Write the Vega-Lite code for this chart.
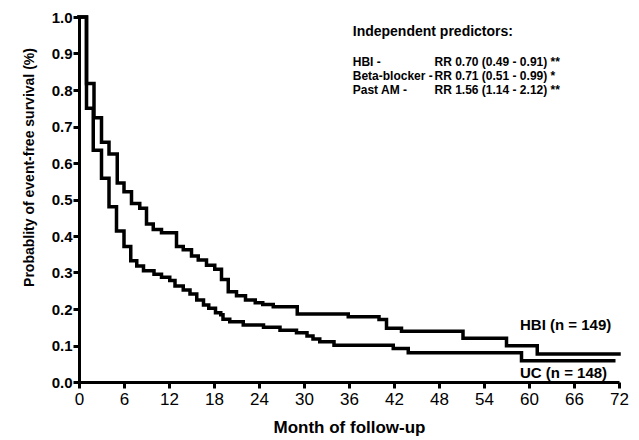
{
  "$schema": "https://vega.github.io/schema/vega-lite/v6.json",
  "width": 540,
  "height": 365,
  "autosize": {"type": "none"},
  "padding": {"left": 79, "top": 17, "right": 20, "bottom": 58},
  "background": "white",
  "config": {
    "view": {"stroke": null},
    "font": "Liberation Sans",
    "axis": {"grid": false}
  },
  "datasets": {
    "km": [
      {"group": "HBI", "month": 0, "surv": 1.0},
      {"group": "HBI", "month": 1, "surv": 0.818},
      {"group": "HBI", "month": 2, "surv": 0.724},
      {"group": "HBI", "month": 3, "surv": 0.657},
      {"group": "HBI", "month": 4, "surv": 0.625},
      {"group": "HBI", "month": 5.1, "surv": 0.545},
      {"group": "HBI", "month": 6, "surv": 0.521},
      {"group": "HBI", "month": 7, "surv": 0.489},
      {"group": "HBI", "month": 8.1, "surv": 0.476},
      {"group": "HBI", "month": 9, "surv": 0.433},
      {"group": "HBI", "month": 9.9, "surv": 0.418},
      {"group": "HBI", "month": 11, "surv": 0.409},
      {"group": "HBI", "month": 13, "surv": 0.371},
      {"group": "HBI", "month": 13.9, "surv": 0.362},
      {"group": "HBI", "month": 15, "surv": 0.345},
      {"group": "HBI", "month": 15.9, "surv": 0.334},
      {"group": "HBI", "month": 17, "surv": 0.32},
      {"group": "HBI", "month": 18.1, "surv": 0.309},
      {"group": "HBI", "month": 19, "surv": 0.281},
      {"group": "HBI", "month": 19.9, "surv": 0.247},
      {"group": "HBI", "month": 21, "surv": 0.236},
      {"group": "HBI", "month": 22.2, "surv": 0.225},
      {"group": "HBI", "month": 23.5, "surv": 0.217},
      {"group": "HBI", "month": 24.5, "surv": 0.212},
      {"group": "HBI", "month": 25.9, "surv": 0.206},
      {"group": "HBI", "month": 29.1, "surv": 0.186},
      {"group": "HBI", "month": 35.9, "surv": 0.179},
      {"group": "HBI", "month": 40, "surv": 0.171},
      {"group": "HBI", "month": 41, "surv": 0.147},
      {"group": "HBI", "month": 43, "surv": 0.139},
      {"group": "HBI", "month": 51.2, "surv": 0.12},
      {"group": "HBI", "month": 57, "surv": 0.099},
      {"group": "HBI", "month": 61.1, "surv": 0.077},
      {"group": "HBI", "month": 72, "surv": 0.077},
      {"group": "UC", "month": 0, "surv": 1.0},
      {"group": "UC", "month": 1, "surv": 0.75},
      {"group": "UC", "month": 1.9, "surv": 0.635},
      {"group": "UC", "month": 3, "surv": 0.558},
      {"group": "UC", "month": 4, "surv": 0.48},
      {"group": "UC", "month": 5, "surv": 0.414},
      {"group": "UC", "month": 6, "surv": 0.371},
      {"group": "UC", "month": 6.9, "surv": 0.332},
      {"group": "UC", "month": 7.7, "surv": 0.318},
      {"group": "UC", "month": 8.6, "surv": 0.305},
      {"group": "UC", "month": 10, "surv": 0.295},
      {"group": "UC", "month": 11, "surv": 0.287},
      {"group": "UC", "month": 12.1, "surv": 0.278},
      {"group": "UC", "month": 12.8, "surv": 0.263},
      {"group": "UC", "month": 13.9, "surv": 0.252},
      {"group": "UC", "month": 14.8, "surv": 0.241},
      {"group": "UC", "month": 15.7, "surv": 0.225},
      {"group": "UC", "month": 16.6, "surv": 0.211},
      {"group": "UC", "month": 17.3, "surv": 0.202},
      {"group": "UC", "month": 18.2, "surv": 0.19},
      {"group": "UC", "month": 18.9, "surv": 0.184},
      {"group": "UC", "month": 19.2, "surv": 0.172},
      {"group": "UC", "month": 20.1, "surv": 0.165},
      {"group": "UC", "month": 21.9, "surv": 0.156},
      {"group": "UC", "month": 24.6, "surv": 0.15},
      {"group": "UC", "month": 26.8, "surv": 0.142},
      {"group": "UC", "month": 29, "surv": 0.135},
      {"group": "UC", "month": 30.4, "surv": 0.126},
      {"group": "UC", "month": 31.2, "surv": 0.118},
      {"group": "UC", "month": 32.1, "surv": 0.11},
      {"group": "UC", "month": 34, "surv": 0.101},
      {"group": "UC", "month": 41.9, "surv": 0.092},
      {"group": "UC", "month": 43.9, "surv": 0.08},
      {"group": "UC", "month": 59, "surv": 0.058},
      {"group": "UC", "month": 71.3, "surv": 0.058}
    ],
    "curveLabels": [
      {"month": 58.8, "surv": 0.156, "label": "HBI (n = 149)"},
      {"month": 58.8, "surv": 0.025, "label": "UC (n = 148)"}
    ],
    "header": [
      {"month": 36.5, "surv": 0.958, "label": "Independent predictors:"}
    ],
    "predictors": [
      {"month": 36.5, "surv": 0.876, "label": "HBI -"},
      {"month": 36.5, "surv": 0.837, "label": "Beta-blocker -"},
      {"month": 36.5, "surv": 0.799, "label": "Past AM -"},
      {"month": 47.4, "surv": 0.876, "label": "RR 0.70 (0.49 - 0.91) **"},
      {"month": 47.4, "surv": 0.837, "label": "RR 0.71 (0.51 - 0.99) *"},
      {"month": 47.4, "surv": 0.799, "label": "RR 1.56 (1.14 - 2.12) **"}
    ]
  },
  "encoding": {
    "x": {
      "field": "month", "type": "quantitative",
      "scale": {"domain": [0, 72], "nice": false},
      "axis": {
        "values": [0, 6, 12, 18, 24, 30, 36, 42, 48, 54, 60, 66, 72],
        "labelOverlap": false, "labelFlush": false,
        "title": "Month of follow-up",
        "titleFont": "Liberation Sans", "titleFontSize": 17, "titleFontWeight": "bold", "titleColor": "black", "titlePadding": 12,
        "labelFont": "Liberation Sans", "labelFontSize": 17, "labelFontWeight": "normal", "labelColor": "black", "labelPadding": 3,
        "domainColor": "black", "domainWidth": 3,
        "tickColor": "black", "tickWidth": 3, "tickSize": 6
      }
    },
    "y": {
      "field": "surv", "type": "quantitative",
      "scale": {"domain": [0, 1], "nice": false},
      "axis": {
        "values": [0, 0.1, 0.2, 0.3, 0.4, 0.5, 0.6, 0.7, 0.8, 0.9, 1.0],
        "tickCount": 11,
        "labelOverlap": false, "labelFlush": false,
        "format": ".1f",
        "title": "Probablity of event-free survival (%)",
        "titleFont": "Liberation Sans", "titleFontSize": 14, "titleFontWeight": "bold", "titleColor": "black",
        "titleX": -50, "titleY": 150, "titleAlign": "center", "titleBaseline": "middle", "titleAngle": -90,
        "labelFont": "Liberation Sans", "labelFontSize": 15, "labelFontWeight": "bold", "labelColor": "black", "labelPadding": 1,
        "domainColor": "black", "domainWidth": 3,
        "tickColor": "black", "tickWidth": 3, "tickSize": 6
      }
    }
  },
  "layer": [
    {
      "data": {"name": "km"},
      "mark": {"type": "line", "interpolate": "step-after", "color": "black", "strokeWidth": 3.5, "strokeCap": "square", "strokeJoin": "miter"},
      "encoding": {
        "detail": {"field": "group", "type": "nominal"}
      }
    },
    {
      "data": {"name": "curveLabels"},
      "mark": {"type": "text", "align": "left", "baseline": "middle", "font": "Liberation Sans", "fontSize": 15, "fontWeight": "bold", "color": "black"},
      "encoding": {
        "text": {"field": "label"}
      }
    },
    {
      "data": {"name": "header"},
      "mark": {"type": "text", "align": "left", "baseline": "middle", "font": "Liberation Sans", "fontSize": 14, "fontWeight": "bold", "color": "black"},
      "encoding": {
        "text": {"field": "label"}
      }
    },
    {
      "data": {"name": "predictors"},
      "mark": {"type": "text", "align": "left", "baseline": "middle", "font": "Liberation Sans", "fontSize": 12, "fontWeight": "bold", "color": "black"},
      "encoding": {
        "text": {"field": "label"}
      }
    }
  ]
}
